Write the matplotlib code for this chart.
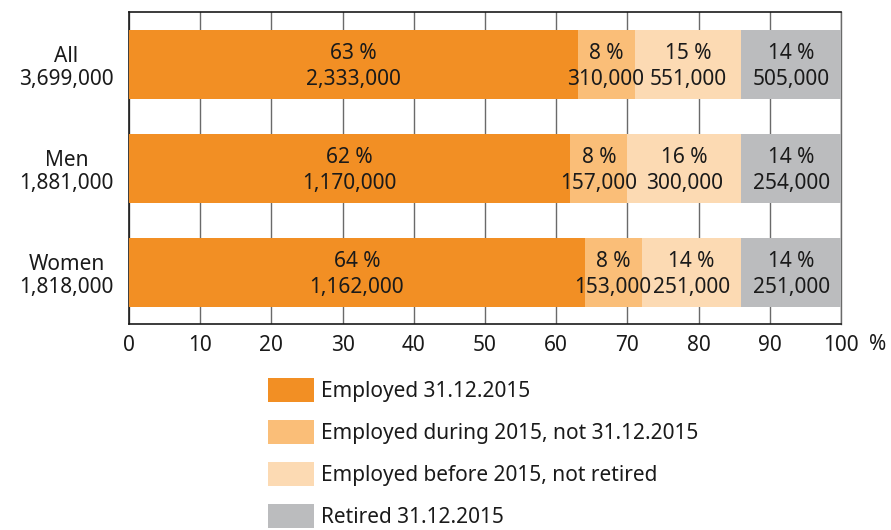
import matplotlib
matplotlib.use("Agg")
import matplotlib.pyplot as plt
from matplotlib.patches import Patch

plt.rcParams['font.family'] = ['Noto Sans', 'DejaVu Sans']

groups = ["All", "Men", "Women"]
group_totals = ["3,699,000", "1,881,000", "1,818,000"]
series = ["Employed 31.12.2015",
          "Employed during 2015, not 31.12.2015",
          "Employed before 2015, not retired",
          "Retired 31.12.2015"]
percent = {
    "Employed 31.12.2015": [63, 62, 64],
    "Employed during 2015, not 31.12.2015": [8, 8, 8],
    "Employed before 2015, not retired": [15, 16, 14],
    "Retired 31.12.2015": [14, 14, 14],
}
counts = {
    "Employed 31.12.2015": ["2,333,000", "1,170,000", "1,162,000"],
    "Employed during 2015, not 31.12.2015": ["310,000", "157,000", "153,000"],
    "Employed before 2015, not retired": ["551,000", "300,000", "251,000"],
    "Retired 31.12.2015": ["505,000", "254,000", "251,000"],
}
colors = ["#F28F24", "#FABE78", "#FCDAB3", "#BBBCBE"]
xticks = [0, 10, 20, 30, 40, 50, 60, 70, 80, 90, 100]

W, H = 891, 530
fig = plt.figure(figsize=(W / 100, H / 100), dpi=100)
ax = fig.add_axes([129 / W, 1 - 324 / H, (841 - 129) / W, (324 - 12) / H])

fs = 15
ypos = list(range(len(groups)))
left = [0] * len(groups)
for s, c in zip(series, colors):
    vals = percent[s]
    ax.barh(ypos, vals, left=left, height=0.663, color=c, zorder=3, linewidth=0)
    for i, v in enumerate(vals):
        cx = left[i] + v / 2
        ax.annotate(f"{v} %", (cx, ypos[i]), xytext=(0, 8), textcoords="offset points",
                    ha="center", va="center", fontsize=fs, color="#1a1a1a", zorder=4)
        ax.annotate(counts[s][i], (cx, ypos[i]), xytext=(0, -11), textcoords="offset points",
                    ha="center", va="center", fontsize=fs, color="#1a1a1a", zorder=4)
    left = [l + v for l, v in zip(left, vals)]

ax.set_xlim(0, 100)
ax.set_ylim(2.495, -0.505)
ax.set_xticks(xticks)
ax.set_xticklabels([str(t) for t in xticks], fontsize=fs, color="#1a1a1a")
ax.set_yticks(ypos)
ax.set_yticklabels([f"{g}\n{t}" for g, t in zip(groups, group_totals)],
                   fontsize=fs, color="#1a1a1a", multialignment="center",
                   linespacing=1.15)
ax.tick_params(axis="y", length=0, pad=11)
ax.tick_params(axis="x", length=0, pad=8)
ax.grid(axis="x", color="#6a6a6a", linewidth=1.0, zorder=0)
ax.set_axisbelow(True)
for side in ["left", "bottom", "top"]:
    ax.spines[side].set_color("#1a1a1a")
    ax.spines[side].set_linewidth(1.2)
ax.spines["right"].set_color("#6a6a6a")
ax.spines["right"].set_linewidth(1.0)

fig.text(878 / W, 1 - 345 / H, "%", fontsize=fs, color="#1a1a1a", ha="center", va="center")

u = fs * 100 / 72
handles = [Patch(facecolor=c, edgecolor="none", label=s) for s, c in zip(series, colors)]
fig.legend(handles=handles, loc="upper left", bbox_to_anchor=(268 / W, 1 - 378 / H),
           frameon=False, fontsize=fs, borderpad=0, borderaxespad=0,
           handlelength=46 / u, handleheight=29 / u, handletextpad=7 / u,
           labelspacing=18 / u, labelcolor="#1a1a1a")

fig.savefig("out.png", dpi=100)
